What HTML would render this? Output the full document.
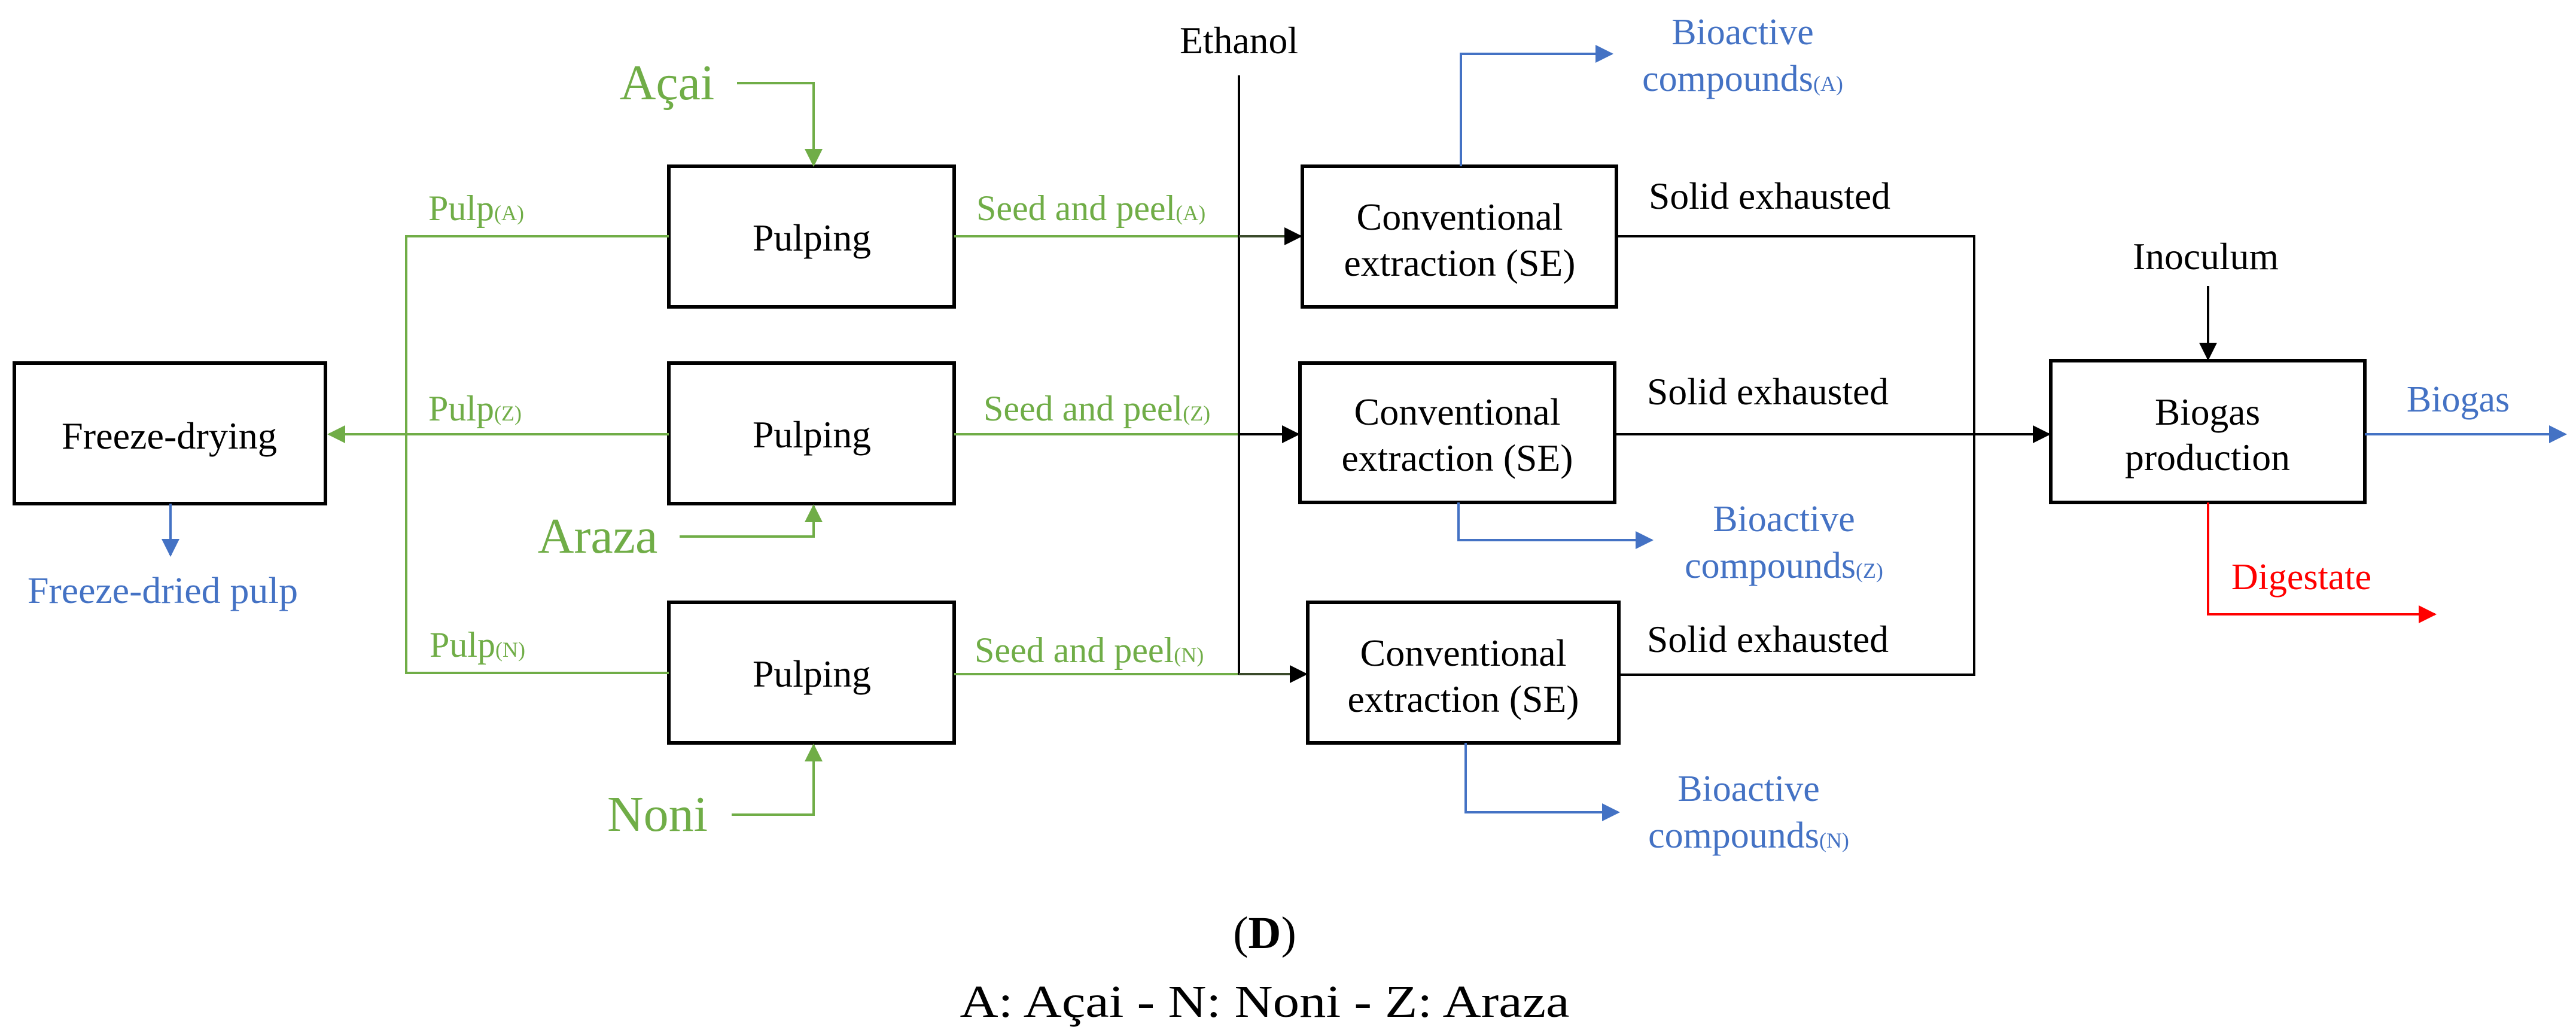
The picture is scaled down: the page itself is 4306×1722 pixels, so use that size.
<!DOCTYPE html>
<html><head><meta charset="utf-8"><style>
html,body{margin:0;padding:0;background:#fff}
svg{display:block}
svg, svg text, svg tspan{font-family:"Liberation Serif","DejaVu Serif","Times New Roman",serif !important}
</style></head><body>
<svg width="4306" height="1722" viewBox="0 0 4306 1722" xmlns="http://www.w3.org/2000/svg">
<defs>
<marker id="ag" viewBox="0 0 10 10" refX="9" refY="5" markerWidth="30" markerHeight="30" orient="auto" markerUnits="userSpaceOnUse"><path d="M0,0 L10,5 L0,10z" fill="#70AD47"/></marker>
<marker id="ab" viewBox="0 0 10 10" refX="9" refY="5" markerWidth="30" markerHeight="30" orient="auto" markerUnits="userSpaceOnUse"><path d="M0,0 L10,5 L0,10z" fill="#4472C4"/></marker>
<marker id="ar" viewBox="0 0 10 10" refX="9" refY="5" markerWidth="30" markerHeight="30" orient="auto" markerUnits="userSpaceOnUse"><path d="M0,0 L10,5 L0,10z" fill="#FF0000"/></marker>
<marker id="akk" viewBox="0 0 10 10" refX="9" refY="5" markerWidth="30" markerHeight="30" orient="auto" markerUnits="userSpaceOnUse"><path d="M0,0 L10,5 L0,10z" fill="#000"/></marker>
</defs>

<g fill="none" stroke="#000" stroke-width="6">
<rect x="24" y="607" width="520" height="235"/>
<rect x="1118" y="278" width="477" height="235"/>
<rect x="1118" y="607" width="477" height="235"/>
<rect x="1118" y="1007" width="477" height="235"/>
<rect x="2177" y="278" width="525" height="235"/>
<rect x="2173" y="607" width="526" height="233"/>
<rect x="2186" y="1007" width="520" height="235"/>
<rect x="3428" y="603" width="525" height="237"/>
</g>

<g fill="none" stroke="#70AD47" stroke-width="4">
<polyline points="1118,395 679,395 679,1125 1118,1125"/>
<line x1="1118" y1="726" x2="550" y2="726" marker-end="url(#ag)"/>
<polyline points="1232,139 1360,139 1360,276" marker-end="url(#ag)"/>
<polyline points="1136,897 1360,897 1360,846" marker-end="url(#ag)"/>
<polyline points="1223,1362 1360,1362 1360,1246" marker-end="url(#ag)"/>
<line x1="1595" y1="395" x2="2071" y2="395"/>
<line x1="1595" y1="726" x2="2071" y2="726"/>
<line x1="1595" y1="1127" x2="2071" y2="1127"/>
</g>

<g fill="none" stroke="#000" stroke-width="4">
<line x1="2071" y1="126" x2="2071" y2="1128"/>
<line x1="2071" y1="395" x2="2174" y2="395" stroke="#3a4a2a" marker-end="url(#akk)"/>
<line x1="2071" y1="726" x2="2170" y2="726" marker-end="url(#akk)"/>
<line x1="2071" y1="1127" x2="2183" y2="1127" stroke="#3a4a2a" marker-end="url(#akk)"/>
<polyline points="2702,395 3300,395 3300,1128 2706,1128"/>
<line x1="2699" y1="726" x2="3425" y2="726" marker-end="url(#akk)"/>
<line x1="3691" y1="478" x2="3691" y2="600" marker-end="url(#akk)"/>
</g>

<g fill="none" stroke="#4472C4" stroke-width="4">
<line x1="285" y1="842" x2="285" y2="928" marker-end="url(#ab)"/>
<polyline points="2442,278 2442,90 2694,90" marker-end="url(#ab)"/>
<polyline points="2438,840 2438,903 2761,903" marker-end="url(#ab)"/>
<polyline points="2450,1242 2450,1358 2705,1358" marker-end="url(#ab)"/>
<line x1="3953" y1="726" x2="4288" y2="726" marker-end="url(#ab)"/>
</g>
<polyline points="3691,840 3691,1027 4070,1027" fill="none" stroke="#FF0000" stroke-width="4" marker-end="url(#ar)"/>

<g>
<g font-size="64" fill="#000" text-anchor="middle">
<text x="283" y="750" textLength="360" lengthAdjust="spacingAndGlyphs">Freeze-drying</text>
<text x="1357" y="419" textLength="198" lengthAdjust="spacingAndGlyphs">Pulping</text>
<text x="1357" y="748" textLength="198" lengthAdjust="spacingAndGlyphs">Pulping</text>
<text x="1357" y="1148" textLength="198" lengthAdjust="spacingAndGlyphs">Pulping</text>
<text x="2440" y="384" textLength="345" lengthAdjust="spacingAndGlyphs">Conventional</text>
<text x="2440" y="461" textLength="387" lengthAdjust="spacingAndGlyphs">extraction (SE)</text>
<text x="2436" y="710" textLength="345" lengthAdjust="spacingAndGlyphs">Conventional</text>
<text x="2436" y="787" textLength="387" lengthAdjust="spacingAndGlyphs">extraction (SE)</text>
<text x="2446" y="1113" textLength="345" lengthAdjust="spacingAndGlyphs">Conventional</text>
<text x="2446" y="1190" textLength="387" lengthAdjust="spacingAndGlyphs">extraction (SE)</text>
<text x="3690" y="710" textLength="176" lengthAdjust="spacingAndGlyphs">Biogas</text>
<text x="3690" y="786" textLength="276" lengthAdjust="spacingAndGlyphs">production</text>
<text x="2071" y="89" textLength="198" lengthAdjust="spacingAndGlyphs">Ethanol</text>
<text x="3687" y="450" textLength="244" lengthAdjust="spacingAndGlyphs">Inoculum</text>
</g>
<g font-size="64" fill="#000">
<text x="2756" y="349" textLength="404" lengthAdjust="spacingAndGlyphs">Solid exhausted</text>
<text x="2753" y="676" textLength="404" lengthAdjust="spacingAndGlyphs">Solid exhausted</text>
<text x="2753" y="1090" textLength="404" lengthAdjust="spacingAndGlyphs">Solid exhausted</text>
</g>

<g fill="#70AD47">
<text x="1115" y="166" font-size="84" text-anchor="middle">Açai</text>
<text x="999" y="924" font-size="84" text-anchor="middle">Araza</text>
<text x="1099" y="1389" font-size="84" text-anchor="middle">Noni</text>
<g font-size="60">
<text x="716" y="368">Pulp<tspan font-size="36">(A)</tspan></text>
<text x="716" y="703">Pulp<tspan font-size="36">(Z)</tspan></text>
<text x="718" y="1098">Pulp<tspan font-size="36">(N)</tspan></text>
<text x="1632" y="368">Seed and peel<tspan font-size="36">(A)</tspan></text>
<text x="1644" y="703">Seed and peel<tspan font-size="36">(Z)</tspan></text>
<text x="1629" y="1107">Seed and peel<tspan font-size="36">(N)</tspan></text>
</g>
</g>

<g fill="#4472C4" font-size="62" text-anchor="middle">
<text x="272" y="1008" textLength="452" lengthAdjust="spacingAndGlyphs">Freeze-dried pulp</text>
<text x="2913" y="74">Bioactive</text>
<text x="2913" y="152">compounds<tspan font-size="36">(A)</tspan></text>
<text x="2982" y="888">Bioactive</text>
<text x="2982" y="966">compounds<tspan font-size="36">(Z)</tspan></text>
<text x="2923" y="1339">Bioactive</text>
<text x="2923" y="1417">compounds<tspan font-size="36">(N)</tspan></text>
<text x="4109" y="688">Biogas</text>
</g>
<text x="3847" y="985" fill="#FF0000" font-size="62" text-anchor="middle">Digestate</text>

<text x="2114" y="1585" font-size="76" text-anchor="middle">(<tspan font-weight="bold">D</tspan>)</text>
<text x="2114" y="1700" font-size="76" text-anchor="middle" textLength="1019" lengthAdjust="spacingAndGlyphs">A: Açai - N: Noni - Z: Araza</text>
</g>
</svg>
</body></html>
